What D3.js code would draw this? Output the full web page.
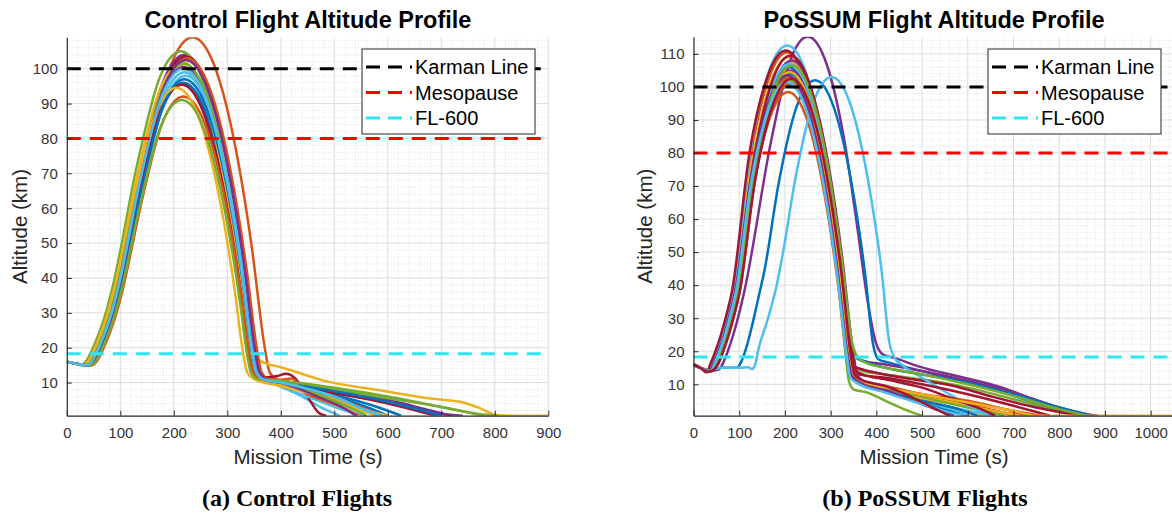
<!DOCTYPE html>
<html>
<head>
<meta charset="utf-8">
<script src="https://cdn.jsdelivr.net/npm/d3@7"></script>
<style>
  body { margin: 0; background: #fff; }
  svg text { font-family: "Liberation Sans", Arial, sans-serif; }
</style>
</head>
<body>
<svg id="chart" width="1172" height="514"></svg>
<script>
// MATLAB default colour order
const palette = ["#0072BD", "#D95319", "#EDB120", "#7E2F8E", "#77AC30", "#4DBEEE", "#A2142F"];

// Control flights: [mission time (s), altitude (km)]
const controlFlights = [
  [[0,16],[20,15.3],[42,15],[54,16.8],[64,20],[76,24.5],[88,30],[100,37],[138,64.6],[178,88.2],[218,96],[258,88.2],[298,64.6],[328,36.7],[342,20],[351,13],[364,11],[400,9.8],[500,6],[560,3],[600,0.5]],
  [[0,16],[20,15.3],[44,15],[56,16.8],[66,20],[78,24.5],[90,30],[102,37],[155,77.6],[195,101.2],[235,109],[275,101.2],[315,77.6],[345,49.7],[370,20],[379,13],[392,11],[420,10],[480,7],[540,3.5],[590,0.5]],
  [[0,16],[20,15.3],[33,15],[45,16.8],[55,20],[67,24.5],[79,30],[91,37],[135,70.6],[175,94.2],[215,102],[255,94.2],[295,70.6],[325,42.7],[343,25],[355,17],[372,15.5],[400,14.4],[490,10.2],[585,7.8],[680,5.4],[735,4.5],[770,2.8],[805,0.7],[830,0.5],[900,0.5]],
  [[0,16],[20,15.3],[35,15],[47,16.8],[57,20],[69,24.5],[81,30],[93,37],[140,72.6],[180,96.2],[220,104],[260,96.2],[300,72.6],[330,44.7],[351,20],[360,13],[373,11],[400,10.5],[500,7.5],[600,5],[680,2],[720,0.5]],
  [[0,16],[20,15.3],[27,15],[39,16.8],[49,20],[61,24.5],[73,30],[85,37],[133,73.6],[173,97.2],[213,105],[253,97.2],[293,73.6],[323,45.7],[344,20],[353,13],[366,11],[400,10.5],[500,8.5],[600,6],[700,3],[780,0.5]],
  [[0,16],[20,15.3],[41,15],[53,16.8],[63,20],[75,24.5],[87,30],[99,37],[140,67.6],[180,91.2],[220,99],[260,91.2],[300,67.6],[330,39.7],[347,20],[356,13],[369,11],[390,9.5],[440,6],[480,2.5],[510,0.5]],
  [[0,16],[20,15.3],[38,15],[50,16.8],[60,20],[72,24.5],[84,30],[96,37],[142,72.1],[182,95.7],[222,103.5],[262,95.7],[302,72.1],[332,44.2],[352,20],[361,13],[374,11.5],[392,11.8],[410,12.5],[425,11.5],[440,8.5],[458,4],[472,1.2],[485,0.5]],
  [[0,16],[20,15.3],[40,15],[52,16.8],[62,20],[74,24.5],[86,30],[98,37],[135,64.1],[175,87.7],[215,95.5],[255,87.7],[295,64.1],[325,36.2],[339,20],[348,13],[361,11],[400,10],[500,6.5],[580,3],[625,0.5]],
  [[0,16],[20,15.3],[41,15],[53,16.8],[63,20],[75,24.5],[87,30],[99,37],[145,71.6],[185,95.2],[225,103],[265,95.2],[305,71.6],[335,43.7],[355,20],[364,13],[377,11],[400,10.8],[420,11.2],[440,8.5],[470,6.2],[500,5],[550,2.2],[580,0.5]],
  [[0,16],[20,15.3],[31,15],[43,16.8],[53,20],[65,24.5],[77,30],[89,37],[132,69.6],[172,93.2],[212,101],[252,93.2],[292,69.6],[322,41.7],[340,20],[349,13],[362,11],[400,9.5],[450,7.5],[500,5],[550,2],[580,0.5]],
  [[0,16],[20,15.3],[37,15],[49,16.8],[59,20],[71,24.5],[83,30],[95,37],[138,69.1],[178,92.7],[218,100.5],[258,92.7],[298,69.1],[328,41.2],[346,20],[355,13],[368,11],[400,10],[500,7.2],[600,4.5],[700,1],[740,0.5]],
  [[0,16],[20,15.3],[36,15],[48,16.8],[58,20],[70,24.5],[82,30],[94,37],[138,70.1],[178,93.7],[218,101.5],[258,93.7],[298,70.1],[328,42.2],[347,20],[356,13],[369,11],[400,10.5],[500,8],[600,5.5],[700,3],[770,1],[805,0.5]],
  [[0,16],[20,15.3],[44,15],[56,16.8],[66,20],[78,24.5],[90,30],[102,37],[142,66.6],[182,90.2],[222,98],[262,90.2],[302,66.6],[332,38.7],[348,20],[357,13],[370,11],[390,9.5],[450,6],[520,2],[560,0.5]],
  [[0,16],[20,15.3],[40,15],[52,16.8],[62,20],[74,24.5],[86,30],[98,37],[135,64.1],[175,87.7],[215,95.5],[255,87.7],[295,64.1],[325,36.2],[339,20],[348,13],[361,11],[400,10],[500,7],[600,4],[690,0.5]],
  [[0,16],[20,15.3],[43,15],[55,16.8],[65,20],[77,24.5],[89,30],[101,37],[140,65.6],[180,89.2],[220,97],[260,89.2],[300,65.6],[330,37.7],[345,20],[354,13],[367,11],[400,10],[500,7.5],[600,4.5],[700,0.5]],
  [[0,16],[20,15.3],[47,15],[59,16.8],[69,20],[81,24.5],[93,30],[105,37],[138,60.6],[178,84.2],[218,92],[258,84.2],[298,60.6],[328,32.7],[339,20],[348,13],[361,11],[400,10],[460,6],[520,2.5],[545,0.5]],
  [[0,16],[20,15.3],[31,15],[43,16.8],[53,20],[65,24.5],[77,30],[89,37],[125,63.1],[165,86.7],[205,94.5],[245,86.7],[285,63.1],[315,35.2],[328,20],[337,13],[350,11],[400,9],[500,5],[560,2],[600,0.5]],
  [[0,16],[20,15.3],[39,15],[51,16.8],[61,20],[73,24.5],[85,30],[97,37],[142,71.1],[182,94.7],[222,102.5],[262,94.7],[302,71.1],[332,43.2],[351,20],[360,13],[373,11],[400,10],[470,6],[520,2.5],[540,0.5]],
  [[0,16],[20,15.3],[45,15],[57,16.8],[67,20],[79,24.5],[91,30],[103,37],[135,59.6],[175,83.2],[215,91],[255,83.2],[295,59.6],[325,31.7],[335,20],[344,13],[357,11],[400,10.5],[480,6],[540,2],[560,0.5]],
  [[0,16],[20,15.3],[38,15],[50,16.8],[60,20],[72,24.5],[84,30],[96,37],[138,68.6],[178,92.2],[218,100],[258,92.2],[298,68.6],[328,40.7],[345,20],[354,13],[367,11],[400,10],[500,6],[560,2],[590,0.5]]
];

// PoSSUM flights: [mission time (s), altitude (km)]
const possumFlights = [
  [[0,16],[15,15],[35,14],[45,16.5],[55,20],[67,25],[79,31],[91,38],[128,74.6],[168,98.2],[208,106],[248,98.2],[288,74.6],[318,46.7],[340,20],[349,13],[362,11],[420,8],[500,5],[560,2],[600,0.5]],
  [[0,16],[15,15],[30,13.8],[40,16.5],[50,20],[62,25],[74,31],[86,38],[125,79.1],[165,102.7],[205,110.5],[245,102.7],[285,79.1],[315,51.2],[341,20],[350,13],[363,11],[420,9],[500,6.5],[600,4],[660,2],[700,0.5]],
  [[0,16],[15,15],[32,14],[42,16.5],[52,20],[64,25],[76,31],[88,38],[128,77.6],[168,101.2],[208,109],[248,101.2],[288,77.6],[318,49.7],[343,20],[352,13],[365,11],[420,8.5],[500,6],[600,3.5],[680,1.2],[720,0.5]],
  [[0,16],[15,15],[32,14],[55,14.5],[65,16.5],[75,20],[87,25],[99,31],[111,38],[170,83.8],[210,107.4],[250,115.2],[290,107.4],[330,83.8],[360,55.9],[380,36],[398,23],[415,19],[440,18],[490,15.5],[585,12.2],[670,9.2],[750,5.2],[840,1.3],[885,0.5]],
  [[0,16],[15,15],[39,14],[49,16.5],[59,20],[71,25],[83,31],[95,38],[130,72.6],[170,96.2],[210,104],[250,96.2],[290,72.6],[320,44.7],[341,20],[352,15],[370,14],[420,13],[500,11.5],[600,9],[700,5.5],[800,2],[860,0.5]],
  [[0,16],[15,15],[30,13.8],[40,16.5],[50,20],[62,25],[74,31],[86,38],[125,81.1],[165,104.7],[205,112.5],[245,104.7],[285,81.1],[315,53.2],[343,20],[352,13],[365,11],[420,8.5],[500,5],[580,2],[630,0.5]],
  [[0,16],[15,15],[28,13.6],[38,16.5],[48,20],[60,25],[72,31],[84,38],[122,79.6],[162,103.2],[202,111],[242,103.2],[282,79.6],[312,51.7],[339,20],[350,15.5],[370,14.5],[400,13.5],[480,11.5],[560,9.8],[655,6.2],[750,3],[846,0.5]],
  [[0,16],[15,15],[32,13.8],[60,15],[95,15],[105,17],[113,20],[125,26],[140,35],[156,45],[186,70.6],[226,94.2],[266,102],[306,94.2],[346,70.6],[376,42.7],[393,22],[405,17.5],[430,16.5],[500,14],[600,10.5],[700,6.5],[800,2.5],[870,0.5]],
  [[0,16],[15,15],[32,13.8],[42,14.5],[52,16.5],[62,20],[74,25],[86,31],[98,38],[127,67.1],[167,90.7],[207,98.5],[247,90.7],[287,67.1],[317,39.2],[333,20],[342,13],[355,11],[420,8],[500,6],[600,3.5],[700,1],[740,0.5]],
  [[0,16],[15,15],[38,14],[48,16.5],[58,20],[70,25],[82,31],[94,38],[132,76.1],[172,99.7],[212,107.5],[252,99.7],[292,76.1],[322,48.2],[346,20],[355,13],[368,11],[420,9],[500,6.5],[600,3.5],[700,1],[750,0.5]],
  [[0,16],[15,15],[40,14],[50,16.5],[60,20],[72,25],[84,31],[96,38],[132,73.6],[172,97.2],[212,105],[252,97.2],[292,73.6],[322,45.7],[345,22],[358,18],[375,17],[420,16],[500,14],[600,11],[700,7.5],[800,3],[875,0.5]],
  [[0,16],[15,15],[32,13.8],[42,14.5],[52,16.5],[62,20],[74,25],[86,31],[98,38],[130,70.6],[170,94.2],[210,102],[250,94.2],[290,70.6],[320,42.7],[339,20],[348,13],[361,11],[420,8.5],[500,6],[600,3],[680,0.5]],
  [[0,16],[15,15],[32,14],[60,15],[100,15],[120,15.2],[128,14.6],[135,16],[141,20],[163,30],[182,40],[196,50],[222,71.6],[262,95.2],[302,103],[342,95.2],[382,71.6],[412,43.7],[428,23],[440,18],[455,16],[500,12],[560,7],[610,3],[650,0.5]],
  [[0,16],[15,15],[37,14],[47,16.5],[57,20],[69,25],[81,31],[93,38],[128,73.1],[168,96.7],[208,104.5],[248,96.7],[288,73.1],[318,45.2],[339,20],[348,14],[362,13],[420,12],[500,10],[600,7],[700,3.5],[780,0.5]],
  [[0,16],[15,15],[41,14],[51,16.5],[61,20],[73,25],[85,31],[97,38],[132,72.6],[172,96.2],[212,104],[252,96.2],[292,72.6],[322,44.7],[343,22],[356,18],[372,17],[420,15],[500,13],[600,10.5],[700,7],[800,3],[870,0.5]],
  [[0,16],[15,15],[41,14],[51,16.5],[61,20],[73,25],[85,31],[97,38],[130,71.6],[170,95.2],[210,103],[250,95.2],[290,71.6],[320,43.7],[340,20],[349,13],[362,11.5],[420,9],[500,7],[600,5],[680,2.5],[730,0.5]],
  [[0,16],[15,15],[38,14],[48,16.5],[58,20],[70,25],[82,31],[94,38],[126,70.1],[166,93.7],[206,101.5],[246,93.7],[286,70.1],[316,42.2],[335,20],[344,13],[357,11],[420,8],[500,5.5],[580,2.5],[640,0.5]],
  [[0,16],[15,15],[40,14],[50,16.5],[60,20],[72,25],[84,31],[96,38],[135,76.6],[175,100.2],[215,108],[255,100.2],[295,76.6],[325,48.7],[349,20],[358,13],[371,11],[420,8.5],[480,5],[540,2],[570,0.5]],
  [[0,16],[15,15],[41,14],[51,16.5],[61,20],[73,25],[85,31],[97,38],[128,69.6],[168,93.2],[208,101],[248,93.2],[288,69.6],[318,41.7],[332,20],[340,11],[350,8.5],[380,7.5],[420,5],[460,2.5],[500,0.5]],
  [[0,16],[15,15],[36,14],[46,16.5],[56,20],[68,25],[80,31],[92,38],[130,75.6],[170,99.2],[210,107],[250,99.2],[290,75.6],[320,47.7],[343,20],[352,13],[365,11],[420,8],[500,5],[600,2],[660,0.5]],
  [[0,16],[15,15],[36,14],[46,16.5],[56,20],[68,25],[80,31],[92,38],[132,78.1],[172,101.7],[212,109.5],[252,101.7],[292,78.1],[322,50.2],[347,20],[356,14],[370,13],[420,11.5],[500,9],[560,6],[620,3],[660,0.5]],
  [[0,16],[15,15],[32,13.8],[43,14.5],[53,16.5],[63,20],[75,25],[87,31],[99,38],[130,69.1],[170,92.7],[210,100.5],[250,92.7],[290,69.1],[320,41.2],[338,20],[347,13],[360,11],[420,8],[500,5],[580,2.5],[620,0.5]],
  [[0,16],[15,15],[32,13.8],[45,14.5],[55,16.5],[65,20],[77,25],[89,31],[101,38],[132,69.6],[172,93.2],[212,101],[252,93.2],[292,69.6],[322,41.7],[340,20],[349,13],[362,11],[420,9.5],[500,7],[600,4.5],[700,2],[760,0.5]],
  [[0,16],[15,15],[39,14],[49,16.5],[59,20],[71,25],[83,31],[95,38],[130,73.1],[170,96.7],[210,104.5],[250,96.7],[290,73.1],[320,45.2],[341,20],[350,13],[363,11],[420,9],[500,7],[600,4.5],[700,2],[750,0.5],[1050,0.5]],
  [[0,16],[15,15],[35,14],[45,16.5],[55,20],[67,25],[79,31],[91,38],[125,72.1],[165,95.7],[205,103.5],[245,95.7],[285,72.1],[315,44.2],[336,20],[345,13],[358,11],[420,8],[480,5],[540,2],[560,0.5]],
  [[0,16],[15,15],[32,13.8],[42,14.5],[52,16.5],[62,20],[74,25],[86,31],[98,38],[135,75.1],[175,98.7],[215,106.5],[255,98.7],[295,75.1],[325,47.2],[348,22],[360,18],[378,16.5],[420,15],[500,13],[600,10],[700,6.5],[800,2.5],[860,0.5]],
  [[0,16],[15,15],[37,13.8],[47,16.5],[57,20],[69,25],[81,31],[93,38],[125,70.1],[165,93.7],[205,101.5],[245,93.7],[285,70.1],[315,42.2],[334,20],[343,12],[356,10.5],[420,7.5],[500,4],[560,1.5],[600,0.5]],
  [[0,16],[15,15],[32,13.8],[45,14.5],[55,16.5],[65,20],[77,25],[89,31],[101,38],[134,71.1],[174,94.7],[214,102.5],[254,94.7],[294,71.1],[324,43.2],[343,20],[352,13],[365,11.5],[420,9.5],[480,6],[530,2.5],[560,0.5]]
];

// Reference altitudes
const refNames = ["Karman Line", "Mesopause", "FL-600"];
const refAltitudes = [100, 80, 18.29];
const refColors = ["#000000", "#ff0000", "#2ee6f0"];

const xTicksControl = [0, 100, 200, 300, 400, 500, 600, 700, 800, 900];
const xTicksPossum = [0, 100, 200, 300, 400, 500, 600, 700, 800, 900, 1000];
const yTicksControl = [10, 20, 30, 40, 50, 60, 70, 80, 90, 100];
const yTicksPossum = [10, 20, 30, 40, 50, 60, 70, 80, 90, 100, 110];

const svg = d3.select("#chart");

function drawPanel(cfg) {
    const g = svg.append("g");
    const allPts = cfg.flights.flat();

    const x = d3.scaleLinear()
        .domain([0, d3.max(allPts, d => d[0])])
        .range([cfg.left, cfg.right]);
    const y = d3.scaleLinear()
        .domain([d3.min(allPts, d => d[1]), d3.max(allPts, d => d[1])])
        .range([cfg.bottom, cfg.top]);

    const clipId = "clip-" + cfg.id;
    g.append("clipPath").attr("id", clipId)
        .append("rect")
        .attr("x", cfg.left).attr("y", cfg.top)
        .attr("width", cfg.right - cfg.left).attr("height", cfg.bottom - cfg.top);

    // minor grid (dotted)
    const xMinor = d3.range(0, x.domain()[1] + 1, 20).filter(v => v % 100 !== 0);
    const yMinor = d3.range(2, y.domain()[1], 2).filter(v => v % 10 !== 0);
    const grid = g.append("g");
    grid.selectAll(".xm").data(xMinor).enter().append("line")
        .attr("x1", d => x(d)).attr("x2", d => x(d))
        .attr("y1", cfg.top).attr("y2", cfg.bottom)
        .attr("stroke", "#d4d4d4").attr("stroke-width", 0.7).attr("stroke-dasharray", "1,2");
    grid.selectAll(".ym").data(yMinor).enter().append("line")
        .attr("x1", cfg.left).attr("x2", cfg.right)
        .attr("y1", d => y(d)).attr("y2", d => y(d))
        .attr("stroke", "#d4d4d4").attr("stroke-width", 0.7).attr("stroke-dasharray", "1,2");

    // major grid
    grid.selectAll(".xM").data(cfg.xTicks.filter(d => d > 0)).enter().append("line")
        .attr("x1", d => x(d)).attr("x2", d => x(d))
        .attr("y1", cfg.top).attr("y2", cfg.bottom)
        .attr("stroke", "#dcdcdc").attr("stroke-width", 1);
    grid.selectAll(".yM").data(cfg.yTicks).enter().append("line")
        .attr("x1", cfg.left).attr("x2", cfg.right)
        .attr("y1", d => y(d)).attr("y2", d => y(d))
        .attr("stroke", "#dcdcdc").attr("stroke-width", 1);

    // flights
    const line = d3.line()
        .x(d => x(d[0]))
        .y(d => y(d[1]))
        .curve(d3.curveMonotoneX);

    g.append("g").attr("clip-path", `url(#${clipId})`)
        .selectAll("path")
        .data(cfg.flights)
        .enter()
        .append("path")
        .attr("d", line)
        .attr("fill", "none")
        .attr("stroke", (d, i) => palette[i % palette.length])
        .attr("stroke-width", 2.5)
        .attr("stroke-linejoin", "round");

    // reference lines
    g.append("g").selectAll("line")
        .data(refAltitudes)
        .enter()
        .append("line")
        .attr("x1", cfg.left).attr("x2", cfg.right)
        .attr("y1", d => y(d)).attr("y2", d => y(d))
        .attr("stroke", (d, i) => refColors[i])
        .attr("stroke-width", 3)
        .attr("stroke-dasharray", "14,9");

    // axes
    const axisColor = "#262626";
    const xAxis = g.append("g")
        .attr("transform", `translate(0,${cfg.bottom})`)
        .call(d3.axisBottom(x).tickValues(cfg.xTicks).tickFormat(d3.format("d"))
            .tickSizeInner(-5).tickSizeOuter(0).tickPadding(12));
    const yAxis = g.append("g")
        .attr("transform", `translate(${cfg.left},0)`)
        .call(d3.axisLeft(y).tickValues(cfg.yTicks).tickFormat(d3.format("d"))
            .tickSizeInner(-5).tickSizeOuter(0).tickPadding(9));
    [xAxis, yAxis].forEach(a => {
        a.select(".domain").attr("stroke", axisColor).attr("stroke-width", 1.2);
        a.selectAll(".tick line").attr("stroke", axisColor);
        a.selectAll(".tick text")
            .attr("fill", "#333")
            .style("font-size", "15px")
            .style("font-family", "'Liberation Sans', Arial, sans-serif");
    });

    g.append("text")
        .attr("x", cfg.titleX).attr("y", 28)
        .attr("text-anchor", "middle")
        .style("font-size", "23.5px").style("font-weight", "bold")
        .text(cfg.title);

    g.append("text")
        .attr("x", cfg.titleX).attr("y", 464)
        .attr("text-anchor", "middle")
        .attr("fill", axisColor)
        .style("font-size", "20.5px")
        .text("Mission Time (s)");

    g.append("text")
        .attr("transform", `translate(${cfg.yLabelX},${(cfg.top + cfg.bottom) / 2}) rotate(-90)`)
        .attr("text-anchor", "middle")
        .attr("fill", axisColor)
        .style("font-size", "20.5px")
        .text("Altitude (km)");

    g.append("text")
        .attr("x", cfg.captionX).attr("y", 506)
        .attr("text-anchor", "middle")
        .style("font-family", "'Liberation Serif', 'Times New Roman', serif")
        .style("font-size", "24px").style("font-weight", "bold")
        .text(cfg.caption);

    // legend
    const lg = g.append("g").attr("transform", `translate(${cfg.legendX},49)`);
    lg.append("rect")
        .attr("width", 173).attr("height", 85)
        .attr("fill", "#fff").attr("stroke", "#262626").attr("stroke-width", 1);
    const rows = lg.selectAll(".row").data(refNames).enter().append("g")
        .attr("transform", (d, i) => `translate(0,${18 + i * 25.5})`);
    rows.append("line")
        .attr("x1", 4).attr("x2", 50)
        .attr("stroke", (d, i) => refColors[i])
        .attr("stroke-width", 3)
        .attr("stroke-dasharray", "14,8");
    rows.append("text")
        .attr("x", 53).attr("dy", "0.35em")
        .attr("fill", "#000")
        .style("font-size", "20px")
        .text(d => d);
}

drawPanel({
    id: "control", flights: controlFlights,
    left: 66.8, right: 548.3, top: 37.3, bottom: 415.7,
    xTicks: xTicksControl, yTicks: yTicksControl,
    title: "Control Flight Altitude Profile", titleX: 308, yLabelX: 27,
    caption: "(a) Control Flights", captionX: 297, legendX: 362
});

drawPanel({
    id: "possum", flights: possumFlights,
    left: 693.5, right: 1173.5, top: 36.7, bottom: 415.7,
    xTicks: xTicksPossum, yTicks: yTicksPossum,
    title: "PoSSUM Flight Altitude Profile", titleX: 934, yLabelX: 652,
    caption: "(b) PoSSUM Flights", captionX: 925, legendX: 988
});
</script>
</body>
</html>
